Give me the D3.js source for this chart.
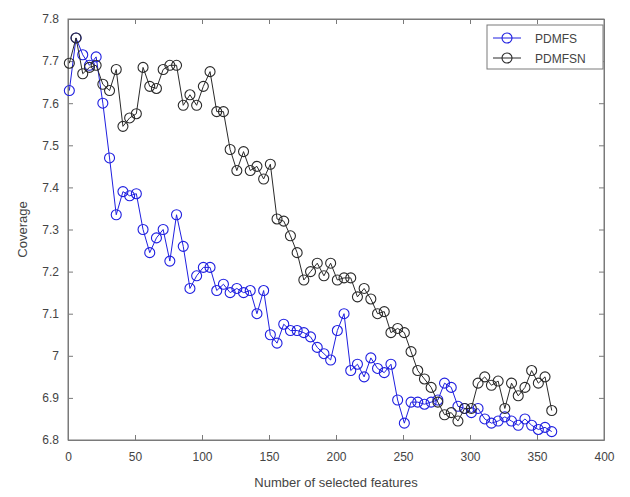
<!DOCTYPE html>
<html>
<head>
<meta charset="utf-8">
<script src="https://cdn.jsdelivr.net/npm/d3@7"></script>
<style>
  html, body { margin: 0; padding: 0; background: #fff; }
  svg { display: block; }
  text { font-family: "Liberation Sans", Arial, Helvetica, sans-serif; }
</style>
</head>
<body>
<svg id="chart" width="630" height="497"></svg>
<script>
// ---- data ----
const featureCounts = d3.range(1, 362, 5); // 1, 6, ..., 361
const pdmfs = [
  7.63, 7.755, 7.715, 7.69, 7.71, 7.60, 7.47, 7.335, 7.39, 7.38,
  7.385, 7.30, 7.245, 7.28, 7.30, 7.225, 7.335, 7.26, 7.16, 7.19,
  7.21, 7.21, 7.155, 7.17, 7.15, 7.16, 7.15, 7.155, 7.10, 7.155,
  7.05, 7.03, 7.075, 7.06, 7.06, 7.055, 7.045, 7.02, 7.005, 6.99,
  7.06, 7.10, 6.965, 6.98, 6.95, 6.995, 6.97, 6.96, 6.98, 6.895,
  6.84, 6.89, 6.89, 6.885, 6.89, 6.895, 6.935, 6.925, 6.88, 6.875,
  6.865, 6.875, 6.85, 6.84, 6.845, 6.855, 6.845, 6.835, 6.85, 6.835,
  6.825, 6.83, 6.82
];
const pdmfsn = [
  7.695, 7.755, 7.67, 7.685, 7.69, 7.645, 7.63, 7.68, 7.545, 7.565,
  7.575, 7.685, 7.64, 7.635, 7.68, 7.69, 7.69, 7.595, 7.62, 7.595,
  7.64, 7.675, 7.58, 7.58, 7.49, 7.44, 7.485, 7.44, 7.45, 7.42,
  7.455, 7.325, 7.32, 7.285, 7.245, 7.18, 7.20, 7.22, 7.19, 7.22,
  7.18, 7.185, 7.185, 7.14, 7.16, 7.135, 7.10, 7.105, 7.055, 7.065,
  7.055, 7.01, 6.965, 6.945, 6.925, 6.89, 6.86, 6.865, 6.845, 6.875,
  6.875, 6.935, 6.95, 6.93, 6.94, 6.875, 6.935, 6.905, 6.925, 6.965,
  6.935, 6.95, 6.87
];
const xTicks = [0, 50, 100, 150, 200, 250, 300, 350, 400];
const yTicks = [6.8, 6.9, 7.0, 7.1, 7.2, 7.3, 7.4, 7.5, 7.6, 7.7, 7.8];
const seriesNames = ["PDMFS", "PDMFSN"];
const seriesColors = ["#1f1fe0", "#2a2a2a"];

// ---- layout ----
const svg = d3.select("#chart");
const L = 68, R = 604, T = 19, B = 440;
const x = d3.scaleLinear().domain([0, 400]).range([L, R]);
const y = d3.scaleLinear().domain([6.8, 7.8]).range([B, T]);
const axisColor = "#7a7a7a";
const textColor = "#444";

// box
svg.append("rect").attr("x", L).attr("y", T).attr("width", R - L).attr("height", B - T)
  .attr("fill", "none").attr("stroke", axisColor).attr("stroke-width", 1);

function fmtY(v) { return Math.abs(v - 7) < 1e-9 ? "7" : d3.format(".1f")(v); }

// axes
const xAxis = svg.append("g").attr("transform", `translate(0,${B})`)
  .call(d3.axisBottom(x).tickValues(xTicks).tickSizeInner(-5).tickSizeOuter(0).tickPadding(12).tickFormat(d3.format("d")));
const xAxisTop = svg.append("g").attr("transform", `translate(0,${T})`)
  .call(d3.axisTop(x).tickValues(xTicks).tickSizeInner(-5).tickSizeOuter(0).tickFormat(""));
const yAxis = svg.append("g").attr("transform", `translate(${L},0)`)
  .call(d3.axisLeft(y).tickValues(yTicks).tickSizeInner(-5).tickSizeOuter(0).tickPadding(9).tickFormat(fmtY));
const yAxisR = svg.append("g").attr("transform", `translate(${R},0)`)
  .call(d3.axisRight(y).tickValues(yTicks).tickSizeInner(-5).tickSizeOuter(0).tickFormat(""));
[xAxis, xAxisTop, yAxis, yAxisR].forEach(g => {
  g.select(".domain").attr("stroke", axisColor);
  g.selectAll(".tick line").attr("stroke", axisColor);
  g.selectAll(".tick text").attr("fill", textColor).attr("font-size", 12)
    .attr("font-family", '"Liberation Sans", Arial, sans-serif');
});

// axis labels
svg.append("text").attr("x", (L + R) / 2).attr("y", 487).attr("text-anchor", "middle")
  .attr("font-size", 13).attr("fill", textColor).text("Number of selected features");
svg.append("text").attr("transform", `translate(27,${(T + B) / 2}) rotate(-90)`)
  .attr("text-anchor", "middle").attr("font-size", 13).attr("fill", textColor).text("Coverage");

// series
const allSeries = [pdmfs, pdmfsn];
const line = d3.line().x((d, i) => x(featureCounts[i])).y(d => y(d));
allSeries.forEach((vals, si) => {
  const g = svg.append("g");
  g.append("path").datum(vals).attr("d", line).attr("fill", "none")
    .attr("stroke", seriesColors[si]).attr("stroke-width", 1);
  g.selectAll("circle").data(vals).enter().append("circle")
    .attr("cx", (d, i) => x(featureCounts[i])).attr("cy", d => y(d)).attr("r", 5)
    .attr("fill", "none").attr("stroke", seriesColors[si]).attr("stroke-width", 1.1);
});

// legend
const lg = svg.append("g");
lg.append("rect").attr("x", 487).attr("y", 25).attr("width", 116).attr("height", 44)
  .attr("fill", "#fff").attr("stroke", axisColor).attr("stroke-width", 1);
seriesNames.forEach((name, i) => {
  const yy = 38 + i * 20;
  lg.append("line").attr("x1", 493).attr("x2", 521).attr("y1", yy).attr("y2", yy)
    .attr("stroke", seriesColors[i]).attr("stroke-width", 1);
  lg.append("circle").attr("cx", 507).attr("cy", yy).attr("r", 5)
    .attr("fill", "none").attr("stroke", seriesColors[i]).attr("stroke-width", 1.1);
  lg.append("text").attr("x", 535).attr("y", yy + 4.5).attr("font-size", 12)
    .attr("fill", textColor).text(name);
});
</script>
</body>
</html>
